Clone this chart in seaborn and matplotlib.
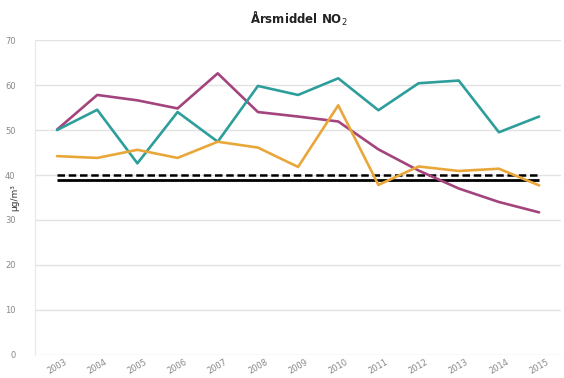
import numpy as np
import pandas as pd
import matplotlib
matplotlib.use("Agg")
import matplotlib.pyplot as plt
import seaborn as sns

# yearly mean NO2
years = list(range(2003, 2016))
teal = [50.0, 54.5, 42.6, 54.0, 47.4, 59.8, 57.8, 61.5, 54.4, 60.4, 61.0, 49.5, 53.0]
magenta = [50.1, 57.8, 56.6, 54.8, 62.6, 54.0, 53.0, 51.9, 45.7, 41.0, 37.0, 34.0, 31.7]
orange = [44.2, 43.8, 45.6, 43.8, 47.4, 46.1, 41.8, 55.5, 37.8, 41.9, 40.9, 41.4, 37.7]
limit_dashed = 40
limit_solid = 39

df = pd.DataFrame({"year": years, "teal": teal, "magenta": magenta, "orange": orange})

sns.set_style("white")
fig = plt.figure(figsize=(5.64, 3.78), dpi=100)
ax = fig.add_axes([0.062, 0.061, 0.933, 0.833])

ax.hlines(limit_solid, years[0], years[-1], color="black", lw=2)
ax.hlines(limit_dashed, years[0], years[-1], color="black", lw=1.8, linestyles=(0, (3, 1.5)))

sns.lineplot(data=df, x="year", y="magenta", color="#a3447d", lw=1.9, ax=ax)
sns.lineplot(data=df, x="year", y="teal", color="#2e9e9b", lw=1.9, ax=ax)
sns.lineplot(data=df, x="year", y="orange", color="#e9a73a", lw=1.9, ax=ax)

ax.set_ylim(0, 70)
ax.set_xlim(2002.45, 2015.55)
ax.set_yticks(range(0, 71, 10))
ax.set_xticks(years)
ax.set_xticklabels([str(y) for y in years], rotation=30, fontsize=6, color="#888888")
ax.tick_params(axis="y", labelsize=6, colors="#888888", length=0, pad=14)
ax.tick_params(axis="x", length=0, pad=2)
ax.grid(axis="y", color="#e3e3e3", lw=1)
ax.set_axisbelow(True)
for s in ["top", "right", "bottom"]:
    ax.spines[s].set_visible(False)
ax.spines["left"].set_color("#e8e8e8")

ax.set_xlabel("")
ax.set_ylabel("µg/m³", fontsize=6.5, color="#333333", labelpad=0)
ax.yaxis.set_label_coords(-0.03, 0.5)
fig.suptitle("Årsmiddel NO$_2$", x=0.53, y=0.975, fontsize=8.5, fontweight="bold", color="#222222")

fig.savefig("out.png", dpi=100)
